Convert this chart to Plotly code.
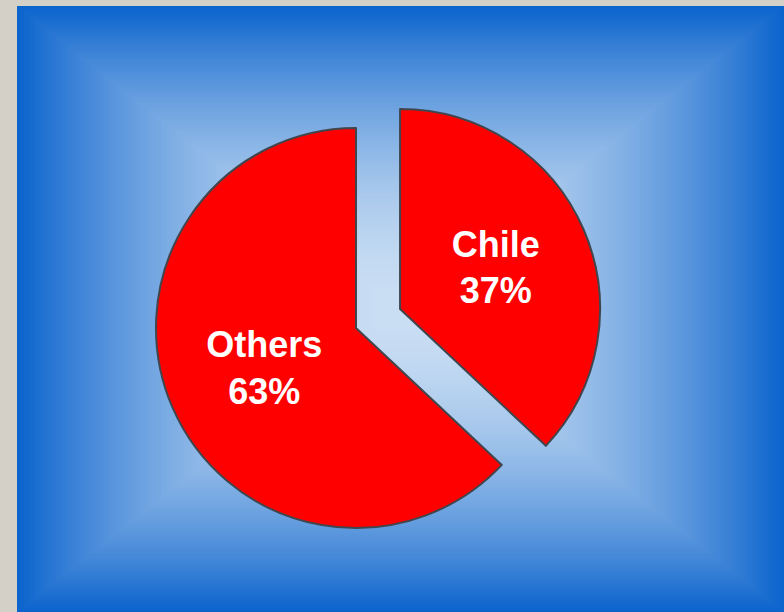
import plotly.graph_objects as go

labels = ["Chile", "Others"]
values = [37, 63]
pulls = [0.24, 0]

W, H = 784, 612
fig = go.Figure()

fig.add_trace(go.Pie(
    labels=labels,
    values=values,
    pull=pulls,
    sort=False,
    direction="clockwise",
    rotation=0,
    marker=dict(colors=["#FF0000", "#FF0000"], line=dict(color="rgb(64,70,78)", width=2)),
    texttemplate="%{label}<br>%{percent:.0%}",
    textposition="inside",
    insidetextorientation="horizontal",
    textfont=dict(family="Liberation Sans, Arial, sans-serif", size=36, color="white", weight="bold"),
    showlegend=False,
    hoverinfo="skip",
    domain=dict(x=[108 / W, 604 / W], y=[36 / H, 532 / H]),
))

# background rectangular gradient (decorative)
x0p, x1p, y0p, y1p = 17, 784, 6, 612
cx, cy = (x0p + x1p) / 2, (y0p + y1p) / 2
hw, hh = (x1p - x0p) / 2, (y1p - y0p) / 2
edge = (12, 100, 205)
center = (202, 222, 243)
shapes = []
N = 120
for i in range(N):
    t = 1 - i / N
    f = t ** 1.8
    col = tuple(int(round(center[k] + (edge[k] - center[k]) * f)) for k in range(3))
    shapes.append(dict(
        type="rect", xref="paper", yref="paper", layer="below",
        x0=(cx - t * hw) / W, x1=(cx + t * hw) / W,
        y0=1 - (cy + t * hh) / H, y1=1 - (cy - t * hh) / H,
        fillcolor="rgb(%d,%d,%d)" % col, line=dict(width=0),
    ))

fig.update_layout(
    width=W, height=H,
    margin=dict(l=0, r=0, t=0, b=0),
    paper_bgcolor="#D4D0C8",
    plot_bgcolor="#D4D0C8",
    shapes=shapes,
    uniformtext=dict(minsize=36, mode="show"),
)

fig.write_html("out.html", config={"displayModeBar": False},
               post_script="document.body.style.margin='0';")
